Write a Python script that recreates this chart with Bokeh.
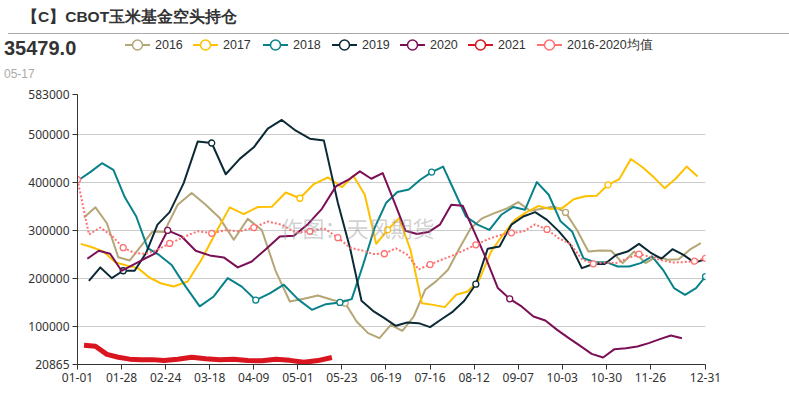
import numpy as np
import pandas as pd
from bokeh.plotting import figure
from bokeh.layouts import column
from bokeh.models import FixedTicker, Label, Range1d, Div
from bokeh.embed import file_html
from bokeh.resources import INLINE

TITLE = "【C】CBOT玉米基金空头持仓"
LAST_VALUE = "35479.0"
LAST_DATE = "05-17"
WATERMARK = "作图：天风期货"

TICK_LABELS = ["01-01", "01-28", "02-24", "03-18", "04-09", "05-01", "05-23", "06-19",
               "07-16", "08-12", "09-07", "10-03", "10-30", "11-26", "12-31"]
TICK_POS = [0, 4, 8, 12, 16, 20, 24, 28, 32, 36, 40, 44, 48, 52, 57]
Y_TICKS = [20865, 100000, 200000, 300000, 400000, 500000, 583000]

NAMES = ["2016", "2017", "2018", "2019", "2020", "2021", "2016-2020均值"]
FIRST_DATES = ["2016-01-05", "2017-01-03", "2018-01-02", "2019-01-08", "2020-01-07", "2021-01-05", "2021-01-01"]

v2016 = [327000, 348000, 315000, 244000, 237500, 268000, 298000, 296500, 353500, 378000, 353500, 325700,
         280500, 324000, 301000, 214600, 152000, 157600, 164600, 155600, 148600, 110400, 86100, 75700,
         103500, 91000, 120800, 176400, 195000, 218000, 263000, 305000, 325700, 336000, 345000, 359000,
         341000, 345000, 350000, 337500, 301000, 256000, 258000, 257600, 232000, 256000, 232000, 246000,
         239000, 240000, 260000, 273600]
v2017 = [272000, 265000, 256000, 234000, 227000, 221500, 202000, 190000, 183300, 193700, 240000, 295000,
         348000, 334000, 348600, 349300, 379000, 367000, 396500, 410400, 390000, 414000, 374300, 272000,
         301000, 325700, 259700, 148600, 145000, 140300, 166000, 173000, 197000, 256000, 291000, 322000,
         338000, 351000, 344400, 346500, 365000, 371000, 372000, 395000, 407000, 448600, 432000, 411000,
         388000, 407600, 433000, 412500]
v2018 = [405600, 422000, 440000, 426000, 369000, 329000, 263000, 249000, 228000, 183000, 142000, 162500,
         200700, 183000, 155000, 169000, 187000, 157000, 134700, 146500, 150000, 157000, 228500, 305000,
         357000, 380000, 385000, 405500, 421500, 433000, 381000, 329000, 312000, 301000, 332600, 348600,
         343000, 400700, 374300, 319000, 298000, 242000, 234000, 234000, 225000, 225000, 232000, 246000,
         218000, 180000, 166000, 180000, 204000]
v2019 = [195000, 223000, 200700, 216000, 216000, 253000, 312000, 338000, 398600, 485000, 482000, 417000,
         449000, 473000, 512000, 530000, 507600, 491000, 487000, 357000, 263000, 153500, 132600, 117400,
         101400, 108300, 107000, 98600, 115000, 131000, 153500, 188000, 261800, 266700, 312000, 329000,
         338000, 322000, 298000, 270000, 221500, 230000, 230000, 249000, 256000, 272000, 254000, 241000,
         261000, 249000, 233000, 240000]
v2020 = [241000, 257600, 251400, 216000, 228500, 241000, 252800, 300000, 287500, 257600, 248000, 243800,
         223000, 235400, 261000, 287500, 289000, 313000, 345000, 391700, 405600, 423000, 407600, 419400,
         360000, 299300, 292400, 296500, 312000, 353500, 351400, 298000, 242000, 180000, 157600, 141700,
         120800, 112500, 93000, 75700, 59700, 43000, 35400, 52800, 54900, 58300, 65300, 73600, 81250, 75700]
v2021 = [61000, 59000, 42000, 36000, 32000, 31000, 31000, 29000, 32000, 36000, 33000, 31000, 32000,
         29000, 28500, 32000, 29500, 25500, 29000, 35479]
vmean = [405600, 291700, 306000, 289000, 264000, 253000, 251000, 260000, 273000, 286000, 298500, 294000,
         300500, 298000, 306000, 318500, 311800, 295500, 298200, 304500, 285000, 264000, 258600, 251000,
         251400, 262800, 249600, 218800, 229000, 239000, 248000, 259000, 270000, 281500, 290000, 295000,
         297500, 312500, 302000, 283500, 272000, 240000, 230500, 233200, 232000, 242000, 250500, 245000,
         238000, 233000, 234000, 236000, 242000]
VALUES = [v2016, v2017, v2018, v2019, v2020, v2021, vmean]
MARKERS = [[20, 39], [17, 24, 43], [14, 20, 28, 52], [3, 10, 31], [7, 34], [],
           [0, 4, 8, 11, 14, 18, 20, 24, 28, 32, 35, 38, 42, 46, 51, 52]]

COLORS = ["#b5a676", "#ffc000", "#08828a", "#0c2a36", "#7b0f56", "#d9161f", "#ff7070"]
WIDTHS = [2, 2, 2, 2, 2, 5, 2]
DASHES = ["solid"] * 6 + ["2 2"]

ref = pd.Timestamp("2021-01-01")
tick_days = [(pd.Timestamp("2021-" + t) - ref).days for t in TICK_LABELS]


def to_x(first, n):
    d = pd.date_range(first, periods=n, freq="7D")
    start = pd.Timestamp(first[:4] + "-01-01")
    days = np.array([(t - start).days for t in d])
    return np.interp(days, tick_days, TICK_POS)


FONT = "Noto Sans"
CJK = "Noto Sans CJK SC"
W = 789
HEAD_H = 82

# ---------------- header (title, latest value, legend) as inline SVG ----------------
LEG_X = [125, 193, 263, 332, 400, 468, 537]
LEG_Y = 45
parts = [
    f'<svg xmlns="http://www.w3.org/2000/svg" width="{W}" height="{HEAD_H}" style="display:block">',
    f'<text x="22" y="16" dominant-baseline="central" font-family="{CJK}" font-size="15.5px" '
    f'font-weight="bold" fill="#333333">{TITLE}</text>',
    f'<line x1="8" y1="33.5" x2="{W}" y2="33.5" stroke="#aaaaaa" stroke-width="1"/>',
    f'<text x="4" y="48" dominant-baseline="central" font-family="{FONT}" font-size="20px" '
    f'font-weight="bold" fill="#333333">{LAST_VALUE}</text>',
    f'<text x="4" y="74" dominant-baseline="central" font-family="{FONT}" font-size="12px" '
    f'fill="#aaaaaa">{LAST_DATE}</text>',
]
for lx, name, col in zip(LEG_X, NAMES, COLORS):
    parts.append(f'<line x1="{lx}" y1="{LEG_Y}" x2="{lx + 25}" y2="{LEG_Y}" stroke="{col}" stroke-width="2"/>')
    parts.append(f'<circle cx="{lx + 12.5}" cy="{LEG_Y}" r="5" fill="white" stroke="{col}" stroke-width="1.5"/>')
    parts.append(f'<text x="{lx + 30}" y="{LEG_Y}" dominant-baseline="central" font-family="{CJK}" '
                 f'font-size="12.5px" fill="#333333">{name}</text>')
parts.append('</svg>')
header = Div(text="".join(parts), width=W, height=HEAD_H, margin=(0, 0, 0, 0))

# ---------------- main chart ----------------
p = figure(width=W, height=308, output_backend="svg", toolbar_location=None,
           x_range=Range1d(0, 57), y_range=Range1d(20865, 583000),
           min_border_left=77, min_border_right=84, min_border_top=12, min_border_bottom=26)
p.outline_line_color = None
p.xgrid.visible = False
p.ygrid.grid_line_color = "#cccccc"
p.ygrid.ticker = FixedTicker(ticks=Y_TICKS)

p.yaxis.ticker = FixedTicker(ticks=Y_TICKS)
p.yaxis.major_label_overrides = {v: str(v) for v in Y_TICKS}
p.xaxis.ticker = FixedTicker(ticks=TICK_POS)
p.xaxis.major_label_overrides = {pos: lab for pos, lab in zip(TICK_POS, TICK_LABELS)}
for ax in (p.xaxis, p.yaxis):
    ax.axis_line_color = "#333333"
    ax.major_tick_line_color = "#333333"
    ax.major_tick_out = 5
    ax.major_tick_in = 0
    ax.minor_tick_line_color = None
    ax.major_label_text_font = FONT
    ax.major_label_text_font_size = "12px"
    ax.major_label_text_color = "#333333"
    ax.major_label_standoff = 3

p.add_layout(Label(x=203, y=138, x_units="screen", y_units="screen", text=WATERMARK,
                   text_font=CJK, text_font_size="22px", text_color="#999999", text_alpha=0.45,
                   text_baseline="middle"))

for name, first, vals, mk, col, w, dash in zip(NAMES, FIRST_DATES, VALUES, MARKERS, COLORS, WIDTHS, DASHES):
    xs = to_x(first, len(vals))
    p.line(xs, vals, line_color=col, line_width=w, line_dash=dash, line_join="round")
    if mk:
        p.scatter(xs[mk], [vals[i] for i in mk], marker="circle", size=6, fill_color="white",
                  line_color=col, line_width=1.3)

layout = column(header, p, spacing=0)
open("out.html", "w").write(file_html(layout, INLINE))
